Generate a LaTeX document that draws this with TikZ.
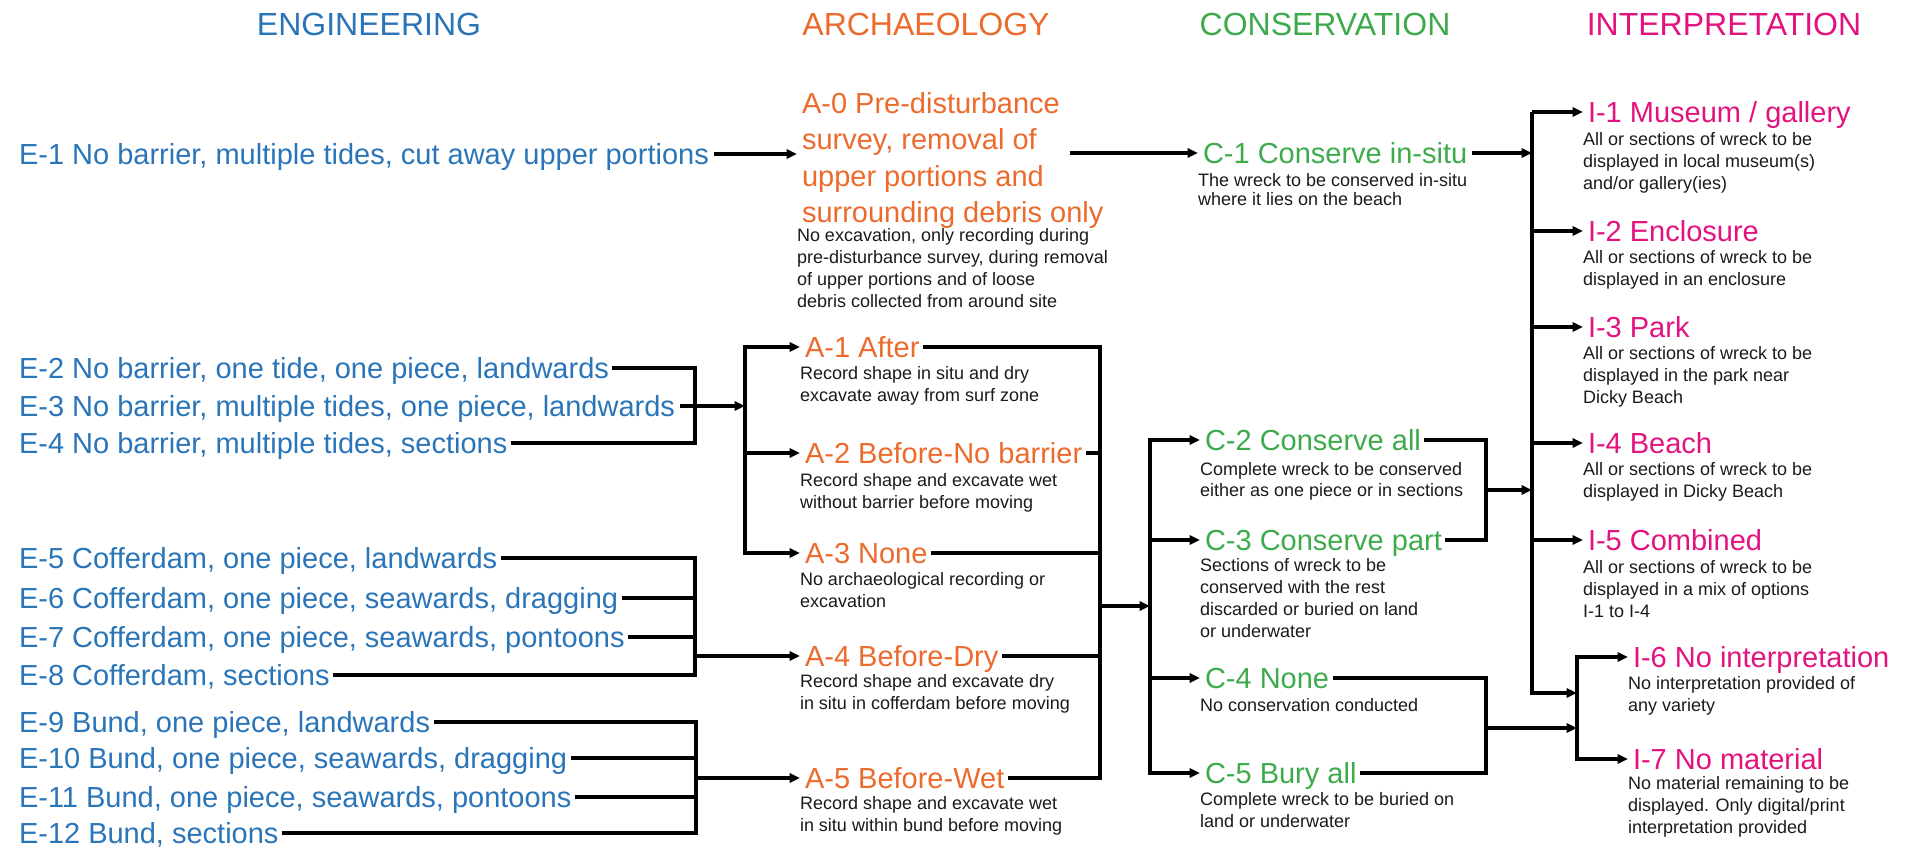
\documentclass[tikz,border=0pt]{standalone}
\usepackage{fontspec}
\setmainfont{Liberation Sans}
\usetikzlibrary{arrows.meta}
\definecolor{engblue}{HTML}{2A74B8}
\definecolor{arcorange}{HTML}{EC6A2C}
\definecolor{congreen}{HTML}{3DAB4B}
\definecolor{intmag}{HTML}{E2127E}
\definecolor{desctext}{HTML}{1A1A1A}
\tikzset{
  every node/.style={inner sep=0pt, outer sep=0pt},
  hdr/.style={font=\fontsize{16}{19}\selectfont, text height=11.5pt, text depth=0pt},
  ttl/.style={font=\fontsize{14.5}{18.4}\selectfont, anchor=west, text height=10.4pt, text depth=0pt, outer sep=2.5pt},
  mttl/.style={font=\fontsize{14.5}{18.3}\selectfont, anchor=north west, align=left, outer sep=2.5pt},
  dsc/.style={font=\fontsize{9}{11}\selectfont, anchor=north west, align=left, text=desctext},
  eng/.style={ttl, text=engblue},
  arc/.style={ttl, text=arcorange},
  con/.style={ttl, text=congreen},
  itp/.style={ttl, text=intmag},
  ln/.style={line width=1.6pt, line cap=rect},
  arr/.style={line width=1.6pt, -{Triangle[length=5.2pt,width=4.6pt]}},
}
\begin{document}
\begin{tikzpicture}[x=0.5pt,y=-0.5pt]
\useasboundingbox (0,0) rectangle (1907,848);
% headers
\node[hdr, text=engblue] (heng) at (369,24) {ENGINEERING};
\node[hdr, text=arcorange] (harc) at (926,24) {ARCHAEOLOGY};
\node[hdr, text=congreen] (hcon) at (1325,24) {CONSERVATION};
\node[hdr, text=intmag] (hint) at (1724,24) {INTERPRETATION};
% engineering
\node[eng] (e1) at (14,154) {E-1 No barrier, multiple tides, cut away upper portions};
\node[eng] (e2) at (14,368) {E-2 No barrier, one tide, one piece, landwards};
\node[eng] (e3) at (14,406) {E-3 No barrier, multiple tides, one piece, landwards};
\node[eng] (e4) at (14,443) {E-4 No barrier, multiple tides, sections};
\node[eng] (e5) at (14,558) {E-5 Cofferdam, one piece, landwards};
\node[eng] (e6) at (14,598) {E-6 Cofferdam, one piece, seawards, dragging};
\node[eng] (e7) at (14,637) {E-7 Cofferdam, one piece, seawards, pontoons};
\node[eng] (e8) at (14,675) {E-8 Cofferdam, sections};
\node[eng] (e9) at (14,722) {E-9 Bund, one piece, landwards};
\node[eng] (e10) at (14,758) {E-10 Bund, one piece, seawards, dragging};
\node[eng] (e11) at (14,797) {E-11 Bund, one piece, seawards, pontoons};
\node[eng] (e12) at (14,833) {E-12 Bund, sections};
% archaeology
\node[mttl, text=arcorange] (a0) at (797,87) {A-0 Pre-disturbance\\survey, removal of\\upper portions and\\surrounding debris only};
\node[dsc] (a0d) at (797,228) {No excavation, only recording during\\pre-disturbance survey, during removal\\of upper portions and of loose\\debris collected from around site};
\node[arc] (a1) at (800,347) {A-1 After};
\node[dsc] (a1d) at (800,366) {Record shape in situ and dry\\excavate away from surf zone};
\node[arc] (a2) at (800,453) {A-2 Before-No barrier};
\node[dsc] (a2d) at (800,473) {Record shape and excavate wet\\without barrier before moving};
\node[arc] (a3) at (800,553) {A-3 None};
\node[dsc] (a3d) at (800,572) {No archaeological recording or\\excavation};
\node[arc] (a4) at (800,656) {A-4 Before-Dry};
\node[dsc] (a4d) at (800,674) {Record shape and excavate dry\\in situ in cofferdam before moving};
\node[arc] (a5) at (800,778) {A-5 Before-Wet};
\node[dsc] (a5d) at (800,796) {Record shape and excavate wet\\in situ within bund before moving};
% conservation
\node[con] (c1) at (1198,153) {C-1 Conserve in-situ};
\node[dsc, font=\fontsize{9}{9.8}\selectfont] (c1d) at (1198,173) {The wreck to be conserved in-situ\\where it lies on the beach};
\node[con] (c2) at (1200,440) {C-2 Conserve all};
\node[dsc, font=\fontsize{9}{10.5}\selectfont] (c2d) at (1200,462) {Complete wreck to be conserved\\either as one piece or in sections};
\node[con] (c3) at (1200,540) {C-3 Conserve part};
\node[dsc] (c3d) at (1200,558) {Sections of wreck to be\\conserved with the rest\\discarded or buried on land\\or underwater};
\node[con] (c4) at (1200,678) {C-4 None};
\node[dsc] (c4d) at (1200,698) {No conservation conducted};
\node[con] (c5) at (1200,773) {C-5 Bury all};
\node[dsc] (c5d) at (1200,792) {Complete wreck to be buried on\\land or underwater};
% interpretation
\node[itp] (i1) at (1583,112) {I-1 Museum / gallery};
\node[dsc] (i1d) at (1583,132) {All or sections of wreck to be\\displayed in local museum(s)\\and/or gallery(ies)};
\node[itp] (i2) at (1583,231) {I-2 Enclosure};
\node[dsc] (i2d) at (1583,250) {All or sections of wreck to be\\displayed in an enclosure};
\node[itp] (i3) at (1583,327) {I-3 Park};
\node[dsc] (i3d) at (1583,346) {All or sections of wreck to be\\displayed in the park near\\Dicky Beach};
\node[itp] (i4) at (1583,443) {I-4 Beach};
\node[dsc] (i4d) at (1583,462) {All or sections of wreck to be\\displayed in Dicky Beach};
\node[itp] (i5) at (1583,540) {I-5 Combined};
\node[dsc] (i5d) at (1583,560) {All or sections of wreck to be\\displayed in a mix of options\\I-1 to I-4};
\node[itp] (i6) at (1628,657) {I-6 No interpretation};
\node[dsc] (i6d) at (1628,676) {No interpretation provided of\\any variety};
\node[itp] (i7) at (1628,759) {I-7 No material};
\node[dsc] (i7d) at (1628,776) {No material remaining to be\\displayed. Only digital/print\\interpretation provided};
% junction coordinates
\coordinate (ej1) at (695,0);
\coordinate (ej2) at (695,0);
\coordinate (ej3) at (696,0);
\coordinate (ab) at (745,0);
\coordinate (aj) at (1100,0);
\coordinate (ajo) at (1100,606);
\coordinate (a0o) at (1070,153);
\coordinate (cb) at (1150,0);
\coordinate (cj) at (1486,0);
\coordinate (cj1o) at (1486,490);
\coordinate (cj2o) at (1486,728);
\coordinate (ib) at (1532,0);
\coordinate (ibend) at (1532,693);
\coordinate (ij) at (1577,0);
% E-1 -> A-0 -> C-1 -> bus
\draw[arr] (e1.east) -- (e1.east -| a0.west);
\draw[arr] (a0o) -- (c1.west);
\draw[arr] (c1.east) -- (c1.east -| ib);
% E-2..E-4
\draw[ln] (e2.east) -- (e2.east -| ej1) -- (e4.east -| ej1) -- (e4.east);
\draw[arr] (e3.east) -- (e3.east -| ab);
% E-5..E-8
\draw[ln] (e5.east) -- (e5.east -| ej2) -- (e8.east -| ej2) -- (e8.east);
\draw[ln] (e6.east) -- (e6.east -| ej2);
\draw[ln] (e7.east) -- (e7.east -| ej2);
\draw[arr] (a4.west -| ej2) -- (a4.west);
% E-9..E-12
\draw[ln] (e9.east) -- (e9.east -| ej3) -- (e12.east -| ej3) -- (e12.east);
\draw[ln] (e10.east) -- (e10.east -| ej3);
\draw[ln] (e11.east) -- (e11.east -| ej3);
\draw[arr] (a5.west -| ej3) -- (a5.west);
% A bus
\draw[ln] (a1.west -| ab) -- (a3.west -| ab);
\foreach \n in {a1,a2,a3} \draw[arr] (\n.west -| ab) -- (\n.west);
% A junction
\draw[ln] (a1.east) -- (a1.east -| aj) -- (a5.east -| aj) -- (a5.east);
\foreach \n in {a2,a3,a4} \draw[ln] (\n.east) -- (\n.east -| aj);
\draw[arr] (ajo) -- (ajo -| cb);
% C bus
\draw[ln] (c2.west -| cb) -- (c5.west -| cb);
\foreach \n in {c2,c3,c4,c5} \draw[arr] (\n.west -| cb) -- (\n.west);
% C junctions
\draw[ln] (c2.east) -- (c2.east -| cj) -- (c3.east -| cj) -- (c3.east);
\draw[arr] (cj1o) -- (cj1o -| ib);
\draw[ln] (c4.east) -- (c4.east -| cj) -- (c5.east -| cj) -- (c5.east);
\draw[arr] (cj2o) -- (cj2o -| ij);
% I bus
\draw[arr] (i1.west -| ib) -- (ibend) -- (ibend -| ij);
\foreach \n in {i1,i2,i3,i4,i5} \draw[arr] (\n.west -| ib) -- (\n.west);
% I junction
\draw[ln] (i6.west -| ij) -- (i7.west -| ij);
\foreach \n in {i6,i7} \draw[arr] (\n.west -| ij) -- (\n.west);
\end{tikzpicture}
\end{document}
